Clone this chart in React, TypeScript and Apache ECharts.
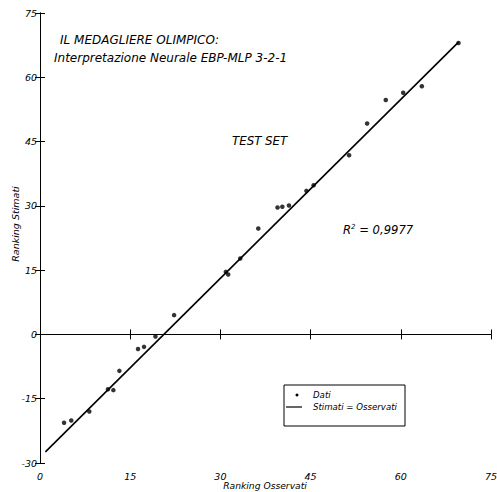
import React, { useEffect, useRef } from "react";
import * as echarts from "echarts";

const xTicks = [0, 15, 30, 45, 60, 75];
const yTicks = [-30, -15, 0, 15, 30, 45, 60, 75];
const observed = [4.0, 5.2, 8.2, 11.3, 12.2, 13.2, 16.3, 17.3, 19.2, 22.3, 30.9, 31.3, 33.3, 36.3, 39.5, 40.3, 41.4, 44.3, 45.5, 51.4, 54.4, 57.5, 60.4, 63.5, 69.6];
const estimated = [-20.6, -20.1, -18.0, -12.8, -13.0, -8.5, -3.4, -2.9, -0.5, 4.5, 14.6, 14.0, 17.7, 24.7, 29.6, 29.8, 30.1, 33.5, 34.8, 41.8, 49.2, 54.7, 56.4, 57.9, 68.0];
const fitX = [0.9, 69.6];
const fitY = [-27.4, 68.2];
const titleLines = ["IL MEDAGLIERE OLIMPICO:", "Interpretazione Neurale EBP-MLP 3-2-1"];
const subsetLabel = "TEST SET";
const r2Value = "0,9977";
const legendNames = ["Dati", "Stimati = Osservati"];
const axisTitles = ["Ranking Osservati", "Ranking Stimati"];

const FONT = "DejaVu Sans";

export default function App() {
  const ref = useRef<HTMLDivElement>(null);
  useEffect(() => {
    if (!ref.current) return;
    const chart = echarts.init(ref.current, undefined, { renderer: "svg" });
    const xMin = xTicks[0];
    const xMax = xTicks[xTicks.length - 1];
    const yMin = yTicks[0];
    const yMax = yTicks[yTicks.length - 1];
    const axisLine = { show: true, lineStyle: { color: "#000", width: 1 } };
    const tickIn = { show: true, inside: true, length: 5, lineStyle: { color: "#000", width: 1 } };
    const labelStyle = { color: "#000", fontFamily: FONT, fontStyle: "italic", fontSize: 9.5 };
    const txt = { fill: "#000", fontFamily: FONT, fontStyle: "italic" };
    chart.setOption({
      animation: false,
      backgroundColor: "#fff",
      grid: { left: 40, right: 6, top: 13, bottom: 29, containLabel: false, outerBoundsMode: "none" },
      xAxis: [
        {
          type: "value", min: xMin, max: xMax, interval: 15, position: "bottom",
          axisLine, axisTick: tickIn, splitLine: { show: false },
          axisLabel: { ...labelStyle, margin: 8 },
        },
        {
          type: "value", min: xMin, max: xMax, interval: 15, position: "top",
          axisLine, axisTick: tickIn, splitLine: { show: false }, axisLabel: { show: false },
        },
      ],
      yAxis: [
        {
          type: "value", min: yMin, max: yMax, interval: 15, position: "left",
          axisLine, axisTick: tickIn, splitLine: { show: false },
          axisLabel: { ...labelStyle, margin: 3 },
        },
        {
          type: "value", min: yMin, max: yMax, interval: 15, position: "right",
          axisLine, axisTick: tickIn, splitLine: { show: false }, axisLabel: { show: false },
        },
      ],
      series: [
        {
          name: legendNames[1], type: "line", xAxisIndex: 0, yAxisIndex: 0,
          data: fitX.map((x, i) => [x, fitY[i]]),
          showSymbol: false, lineStyle: { color: "#000", width: 1.6 }, silent: true,
        },
        {
          name: legendNames[0], type: "scatter", xAxisIndex: 0, yAxisIndex: 0,
          data: observed.map((x, i) => [x, estimated[i]]),
          symbol: "circle", symbolSize: 4.5, itemStyle: { color: "#000" },
        },
      ],
      graphic: [
        { type: "text", left: 60, top: 34, style: { ...txt, text: titleLines[0], fontSize: 12 } },
        { type: "text", left: 54, top: 52, style: { ...txt, text: titleLines[1], fontSize: 12 } },
        { type: "text", left: 232, top: 135, style: { ...txt, text: subsetLabel, fontSize: 11.8 } },
        {
          type: "text", left: 343, top: 223,
          style: {
            ...txt,
            text: "{a|R}{s|2}{a| = " + r2Value + "}",
            rich: {
              a: { fontFamily: FONT, fontStyle: "italic", fontSize: 11.6, fill: "#000", verticalAlign: "bottom" },
              s: { fontFamily: FONT, fontStyle: "italic", fontSize: 7, fill: "#000", verticalAlign: "top", padding: [0, 0, 6, 0] },
            },
          },
        },
        {
          type: "text", x: 265, y: 485,
          style: { ...txt, text: axisTitles[0], fontSize: 9.2, align: "center", verticalAlign: "middle" },
        },
        {
          type: "text", x: 15, y: 224, rotation: Math.PI / 2,
          style: { ...txt, text: axisTitles[1], fontSize: 9.5, align: "center", verticalAlign: "middle" },
        },
        { type: "rect", shape: { x: 284, y: 385, width: 121, height: 41 }, style: { fill: "#fff", stroke: "#000", lineWidth: 1 } },
        { type: "circle", shape: { cx: 297, cy: 395, r: 1.5 }, style: { fill: "#000" } },
        { type: "line", shape: { x1: 286, y1: 407, x2: 302, y2: 407 }, style: { stroke: "#000", lineWidth: 1.2 } },
        { type: "text", x: 313, y: 395, style: { ...txt, text: legendNames[0], fontSize: 8.6, verticalAlign: "middle" } },
        { type: "text", x: 313, y: 407, style: { ...txt, text: legendNames[1], fontSize: 8.6, verticalAlign: "middle" } },
      ],
    });
    return () => chart.dispose();
  }, []);
  return <div ref={ref} style={{ position: "fixed", left: 0, top: 0, width: 497, height: 492 }} />;
}
